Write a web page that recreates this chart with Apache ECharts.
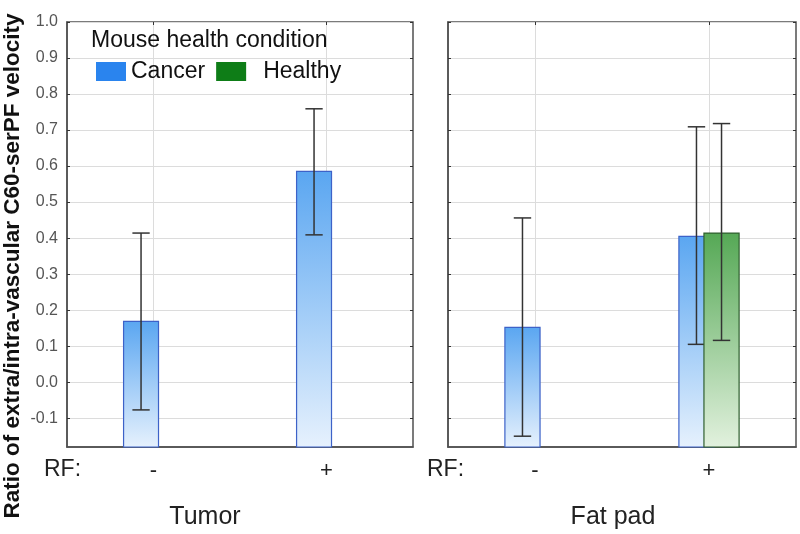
<!DOCTYPE html>
<html><head><meta charset="utf-8">
<script src="https://cdn.jsdelivr.net/npm/echarts@6/dist/echarts.min.js"></script>
<style>html,body{margin:0;padding:0;background:#fff}#c{width:800px;height:534px}</style>
</head><body><div id="c"></div>
<script>
// ---- data ----
const rfCategories = ['-', '+'];
const panelNames = ['Tumor', 'Fat pad'];
const seriesNames = ['Cancer', 'Healthy'];
const yTickValues = [-0.1, 0, 0.1, 0.2, 0.3, 0.4, 0.5, 0.6, 0.7, 0.8, 0.9, 1.0];
const yMin = -0.18, yMax = 1.0;
// [RF category index, mean, lower error, upper error]
const tumorCancer   = [[0, 0.169, -0.077, 0.414], [1, 0.585, 0.409, 0.759]];
const fatPadCancer  = [[0, 0.152, -0.150, 0.456], [1, 0.405, 0.105, 0.709]];
const fatPadHealthy = [[1, 0.414, 0.116, 0.718]];

const FONT = "'Liberation Sans', Arial, sans-serif";
const styles = {
  Cancer:  {off: -0.173, width: 0.202, top: '#5aa6f1', bottom: '#e6f1fd', stroke: '#3d62c8', legend: '#2a84ee'},
  Healthy: {off: -0.029, width: 0.202, top: '#55a855', bottom: '#e2f1de', stroke: '#2f5f2f', legend: '#0e7d17'}
};

function makeRender(st) {
  return function (params, api) {
    const x = api.value(0), v = api.value(1), lo = api.value(2), hi = api.value(3);
    const top = api.coord([x, v]);
    const base = api.coord([x, yMin]);
    const bw = api.size([1, 0])[0];
    const left = top[0] + bw * st.off;
    const w = bw * st.width;
    const mid = left + w / 2;
    const pLo = api.coord([x, lo]), pHi = api.coord([x, hi]);
    const cap = bw * 0.05;
    const es = {stroke: '#333', lineWidth: 1.5};
    return {type: 'group', children: [
      {type: 'rect', shape: {x: left, y: top[1], width: w, height: base[1] - top[1]},
        style: {fill: new echarts.graphic.LinearGradient(0, 0, 0, 1, [{offset: 0, color: st.top}, {offset: 1, color: st.bottom}]),
                stroke: st.stroke, lineWidth: 1.2}},
      {type: 'line', shape: {x1: mid, y1: pHi[1], x2: mid, y2: pLo[1]}, style: es},
      {type: 'line', shape: {x1: mid - cap, y1: pHi[1], x2: mid + cap, y2: pHi[1]}, style: es},
      {type: 'line', shape: {x1: mid - cap, y1: pLo[1], x2: mid + cap, y2: pLo[1]}, style: es}
    ]};
  };
}

const gridStyle = {show: true, borderColor: '#505050', borderWidth: 1.5, top: 22, bottom: 87};
const grids = [
  Object.assign({left: 67, right: 387}, gridStyle),
  Object.assign({left: 448, right: 4}, gridStyle)
];

const xAxes = [], yAxes = [];
[0, 1].forEach(g => {
  xAxes.push({type: 'category', gridIndex: g, data: rfCategories, position: 'bottom',
    axisLine: {show: true, onZero: false, lineStyle: {color: '#505050', width: 1.5}},
    axisTick: {show: true, inside: true, length: 3, alignWithLabel: true, lineStyle: {color: '#333'}},
    axisLabel: {fontSize: 22, color: '#222', fontFamily: FONT, margin: 13},
    splitLine: {show: true, alignWithLabel: true, lineStyle: {color: '#dcdcdc', width: 1}}});
  xAxes.push({type: 'category', gridIndex: g, data: rfCategories, position: 'top',
    axisLine: {show: false, onZero: false}, axisLabel: {show: false}, splitLine: {show: false},
    axisTick: {show: true, inside: true, length: 3, alignWithLabel: true, lineStyle: {color: '#333'}}});
  yAxes.push({type: 'value', gridIndex: g, min: yMin, max: yMax, position: 'left',
    axisLine: {show: true, onZero: false, lineStyle: {color: '#505050', width: 1.5}},
    axisTick: {show: true, inside: true, length: 3, customValues: yTickValues, lineStyle: {color: '#333'}},
    axisLabel: {show: g === 0, customValues: yTickValues, fontSize: 16, color: '#555', fontFamily: FONT, margin: 9,
      formatter: v => v.toFixed(1)},
    splitLine: {show: true, lineStyle: {color: '#dcdcdc', width: 1}}});
  yAxes.push({type: 'value', gridIndex: g, min: yMin, max: yMax, position: 'right',
    axisLine: {show: false, onZero: false}, axisLabel: {show: false}, splitLine: {show: false},
    axisTick: {show: true, inside: true, length: 3, customValues: yTickValues, lineStyle: {color: '#333'}}});
});

function series(name, data, g) {
  return {type: 'custom', name: name, xAxisIndex: g * 2, yAxisIndex: g * 2, data: data,
    itemStyle: {color: styles[name].legend}, renderItem: makeRender(styles[name])};
}

const chart = echarts.init(document.getElementById('c'), null, {renderer: 'canvas'});
chart.setOption({
  animation: false,
  backgroundColor: '#fff',
  title: {text: 'Mouse health condition', left: 91, top: 29, padding: 0,
    textStyle: {fontSize: 23, fontWeight: 'normal', color: '#111', fontFamily: FONT}},
  legend: {data: [{name: 'Cancer'}, {name: 'Healthy', textStyle: {padding: [0, 0, 0, 12]}}],
    left: 96, top: 60, padding: 0, itemWidth: 30, itemHeight: 19, itemGap: 11,
    icon: 'rect', textStyle: {fontSize: 23, color: '#111', fontFamily: FONT}},
  grid: grids,
  xAxis: xAxes,
  yAxis: yAxes,
  series: [
    series('Cancer', tumorCancer, 0),
    series('Cancer', fatPadCancer, 1),
    series('Healthy', fatPadHealthy, 1)
  ],
  graphic: [
    {type: 'text', x: 13, y: 266, rotation: Math.PI / 2,
      style: {text: 'Ratio of extra/intra-vascular C60-serPF velocity', align: 'center', verticalAlign: 'middle',
        font: "bold 22.5px " + FONT, fill: '#111'}},
    {type: 'text', x: 44, y: 470, style: {text: 'RF:', verticalAlign: 'middle', font: '23px ' + FONT, fill: '#222'}},
    {type: 'text', x: 427, y: 470, style: {text: 'RF:', verticalAlign: 'middle', font: '23px ' + FONT, fill: '#222'}},
    {type: 'text', x: 205, y: 517, style: {text: panelNames[0], align: 'center', verticalAlign: 'middle', font: '25px ' + FONT, fill: '#222'}},
    {type: 'text', x: 613, y: 517, style: {text: panelNames[1], align: 'center', verticalAlign: 'middle', font: '25px ' + FONT, fill: '#222'}}
  ]
});
</script></body></html>
